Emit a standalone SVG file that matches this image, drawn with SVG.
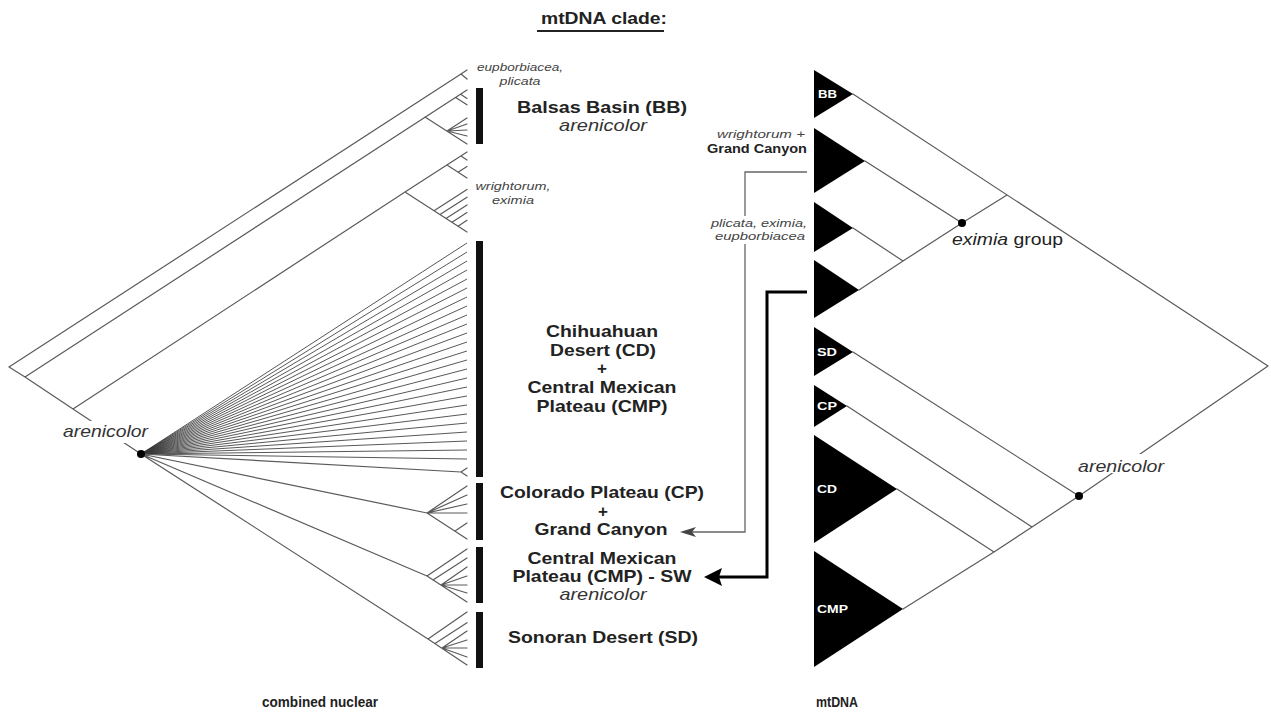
<svg xmlns="http://www.w3.org/2000/svg" width="1271" height="715" viewBox="0 0 1271 715">
<style>
.br{stroke:#5a5a5a;stroke-width:1.2;fill:none;stroke-linecap:round}
.fan{stroke:#3a3a3a;stroke-width:0.85;fill:none}
.bar{fill:#111}
.tri{fill:#000}
.dot{fill:#000}
.t{font-family:"Liberation Sans",Arial,Helvetica,sans-serif}
.b{font-weight:bold;font-size:17px;fill:#222}
.i{font-style:italic;font-size:17px;fill:#333}
.s{font-style:italic;font-size:11px;fill:#444}
.w{font-weight:bold;font-size:11px;fill:#fff}
.m{text-anchor:middle}
.e{text-anchor:end}
.thin{stroke:#666;stroke-width:1.3;fill:none}
.thick{stroke:#000;stroke-width:3;fill:none}
</style>
<defs>
<marker id="ahThin" markerUnits="userSpaceOnUse" viewBox="0 0 16 10" markerWidth="16" markerHeight="10" refX="4" refY="5" orient="auto"><path d="M16,5 L0,0 L4,5 L0,10 Z" fill="#444"/></marker>
<marker id="ahThick" markerUnits="userSpaceOnUse" viewBox="0 0 18 18" markerWidth="18" markerHeight="18" refX="3" refY="9" orient="auto"><path d="M18,9 L0,0 L3,9 L0,18 Z" fill="#000"/></marker>
</defs>
<rect width="1271" height="715" fill="#fff"/>

<g id="title">
<text class="t b m" x="604" y="24" textLength="126" lengthAdjust="spacingAndGlyphs" font-size="15">mtDNA clade:</text>
<line x1="537" y1="31" x2="664" y2="31" stroke="#222" stroke-width="2"/>
</g>

<g id="connectors">
<!-- left tree -->
<path class="br" d="M9,367 L461,74 M461,74 L467,70 M461,74 L467,79 M9,367 L25,377 M25,377 L467,90 M456,97.7 L467,104.8 M461,94.5 L467,98.4 M425,117 L467,144 M447,131 L467,118 M447,131 L467,124 M447,131 L467,130 M447,131 L467,136 M25,377 L73,409 M73,409 L405,192 L467,152 M461,156 L467,160 M447,165 L467,178 M458,172.2 L467,166.4 M405,192 L467,232 M434,210.7 L467,189.4 M440,214.6 L467,197.2 M446,218.4 L467,204.9 M452,222.3 L467,212.6 M458,226.2 L467,220.3 M73,409 L141,454"/>
<path class="fan" d="M141,454 L467,243 M141,454 L467,252 M141,454 L467,261 M141,454 L467,270 M141,454 L467,279 M141,454 L467,288 M141,454 L467,297 M141,454 L467,306 M141,454 L467,315 M141,454 L467,324 M141,454 L467,333 M141,454 L467,342 M141,454 L467,351 M141,454 L467,360 M141,454 L467,369 M141,454 L467,378 M141,454 L467,387 M141,454 L467,396 M141,454 L467,405 M141,454 L467,414 M141,454 L467,423 M141,454 L467,432 M141,454 L467,441 M141,454 L467,450 M141,454 L467,459"/>
<path class="br" d="M141,454 L461,472 M461,472 L467,468 M461,472 L467,476 M141,454 L427,513 M427,513 L467,486 M427,513 L467,495 M427,513 L467,504 M427,513 L467,513 M427,513 L467,539 M455,531 L467,523 M141,454 L427,576 M427,576 L467,549 M427,576 L467,602 M433,580 L467,558 M441,585 L467,567 M441,585 L467,576 M441,585 L467,585 M441,585 L467,593 M141,454 L428,639 M428,639 L467,612 M428,639 L467,665 M435,643.5 L467,622.7 M442,648 L467,631 M442,648 L467,640 M442,648 L467,648 M442,648 L467,657"/>
<!-- right tree -->
<path class="br" d="M853,94 L1268,366 M1007,195 L962,223 M962,223 L865,161 M962,223 L903,261 M903,261 L853,228 M903,261 L859,290 M1268,366 L1079,496 M1079,496 L853,352 M1079,496 L1032,527 M1032,527 L847,406 M1032,527 L994,552 M994,552 L897,489 M994,552 L903,609"/>
<!-- arrows -->
<path class="thin" d="M807,172 L745,172 L745,532 L692,532" marker-end="url(#ahThin)"/>
<path class="thick" d="M807,292 L767,292 L767,577 L719,577" marker-end="url(#ahThick)"/>
</g>

<g id="node-root-left-arenicolor">
<rect x="60" y="421" width="92" height="22" fill="#fff"/>
<text class="t i" x="63" y="437" textLength="85" lengthAdjust="spacingAndGlyphs">arenicolor</text>
<circle class="dot" cx="141" cy="454" r="4"/>
</g>

<g id="node-eup-plicata">
<text class="t s m" x="520" y="71" textLength="86" lengthAdjust="spacingAndGlyphs">eupborbiacea,</text>
<text class="t s m" x="520" y="85" textLength="41" lengthAdjust="spacingAndGlyphs">plicata</text>
</g>

<g id="node-BB">
<rect class="bar" x="476" y="88" width="7" height="56"/>
<text class="t b m" x="602" y="113" textLength="170" lengthAdjust="spacingAndGlyphs">Balsas Basin (BB)</text>
<text class="t i m" x="603" y="131" textLength="88" lengthAdjust="spacingAndGlyphs">arenicolor</text>
</g>

<g id="node-wrightorum">
<text class="t s m" x="513" y="190" textLength="75" lengthAdjust="spacingAndGlyphs">wrightorum,</text>
<text class="t s m" x="513" y="204" textLength="42" lengthAdjust="spacingAndGlyphs">eximia</text>
</g>

<g id="node-CD-CMP">
<rect class="bar" x="476" y="241" width="7" height="236"/>
<text class="t b m" x="602" y="337" textLength="112" lengthAdjust="spacingAndGlyphs">Chihuahuan</text>
<text class="t b m" x="603" y="356" textLength="106" lengthAdjust="spacingAndGlyphs">Desert (CD)</text>
<text class="t b m" x="602" y="374">+</text>
<text class="t b m" x="602" y="393" textLength="149" lengthAdjust="spacingAndGlyphs">Central Mexican</text>
<text class="t b m" x="602" y="412" textLength="131" lengthAdjust="spacingAndGlyphs">Plateau (CMP)</text>
</g>

<g id="node-CP">
<rect class="bar" x="476" y="483" width="7" height="57"/>
<text class="t b m" x="602" y="498" textLength="204" lengthAdjust="spacingAndGlyphs">Colorado Plateau (CP)</text>
<text class="t b m" x="603" y="517">+</text>
<text class="t b m" x="601" y="535" textLength="133" lengthAdjust="spacingAndGlyphs">Grand Canyon</text>
</g>

<g id="node-CMP-SW">
<rect class="bar" x="476" y="547" width="7" height="56"/>
<text class="t b m" x="602" y="564" textLength="149" lengthAdjust="spacingAndGlyphs">Central Mexican</text>
<text class="t b m" x="602" y="582" textLength="179" lengthAdjust="spacingAndGlyphs">Plateau (CMP) - SW</text>
<text class="t i m" x="603" y="600" font-size="16" textLength="87" lengthAdjust="spacingAndGlyphs">arenicolor</text>
</g>

<g id="node-SD">
<rect class="bar" x="476" y="612" width="7" height="56"/>
<text class="t b m" x="603" y="643" textLength="190" lengthAdjust="spacingAndGlyphs">Sonoran Desert (SD)</text>
</g>

<g id="node-mt-BB">
<polygon class="tri" points="814,70 853,94 814,118"/>
<text class="t w" x="818" y="98" textLength="19" lengthAdjust="spacingAndGlyphs">BB</text>
</g>

<g id="node-mt-wrightorum">
<polygon class="tri" points="814,128 865,161 814,193"/>
<text class="t s e" x="805" y="138" textLength="88" lengthAdjust="spacingAndGlyphs">wrightorum +</text>
<text class="t e" x="807" y="153" font-weight="bold" font-size="13" fill="#222" textLength="100" lengthAdjust="spacingAndGlyphs">Grand Canyon</text>
</g>

<g id="node-mt-plicata">
<polygon class="tri" points="814,202 853,228 814,252"/>
<rect x="708" y="216" width="102" height="28" fill="#fff"/>
<text class="t s e" x="807" y="227" textLength="96" lengthAdjust="spacingAndGlyphs">plicata, eximia,</text>
<text class="t s e" x="805" y="240" textLength="90" lengthAdjust="spacingAndGlyphs">eupborbiacea</text>
</g>

<g id="node-mt-4">
<polygon class="tri" points="814,260 859,290 814,318"/>
</g>

<g id="node-eximia-group">
<circle class="dot" cx="962" cy="223" r="4"/>
<text class="t" x="952" y="245" font-size="17" fill="#222" textLength="111" lengthAdjust="spacingAndGlyphs"><tspan font-style="italic">eximia</tspan> group</text>
</g>

<g id="node-mt-SD">
<polygon class="tri" points="814,327 853,352 814,376"/>
<text class="t w" x="817" y="356" textLength="20" lengthAdjust="spacingAndGlyphs">SD</text>
</g>

<g id="node-mt-CP">
<polygon class="tri" points="814,385 847,406 814,427"/>
<text class="t w" x="817" y="410" textLength="20" lengthAdjust="spacingAndGlyphs">CP</text>
</g>

<g id="node-mt-CD">
<polygon class="tri" points="814,435 897,489 814,543"/>
<text class="t w" x="817" y="493" textLength="20" lengthAdjust="spacingAndGlyphs">CD</text>
</g>

<g id="node-mt-CMP">
<polygon class="tri" points="814,551 903,609 814,667"/>
<text class="t w" x="817" y="613" textLength="31" lengthAdjust="spacingAndGlyphs">CMP</text>
</g>

<g id="node-right-arenicolor">
<rect x="1075" y="454" width="92" height="19" fill="#fff"/>
<text class="t i" x="1078" y="472" textLength="86" lengthAdjust="spacingAndGlyphs">arenicolor</text>
<circle class="dot" cx="1079" cy="496" r="4"/>
</g>

<g id="captions">
<text class="t m" x="320" y="707" font-weight="bold" font-size="14" fill="#222" textLength="116" lengthAdjust="spacingAndGlyphs">combined nuclear</text>
<text class="t m" x="837" y="707" font-weight="bold" font-size="14" fill="#222" textLength="42" lengthAdjust="spacingAndGlyphs">mtDNA</text>
</g>
</svg>
